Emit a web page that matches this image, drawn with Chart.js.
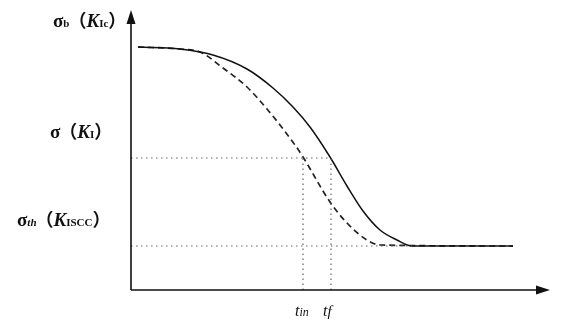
<!DOCTYPE html>
<html lang="en">
<head>
    <meta charset="UTF-8">
    <title>Stress vs time curve</title>
    <style>
        body { margin: 0; background: #fff; }
        #wrap { width: 568px; height: 324px; }
    </style>
</head>
<body>
    <div id="wrap"><canvas id="curveChart" width="568" height="324"></canvas></div>

    <script src="https://cdn.jsdelivr.net/npm/chart.js"></script>
    <script>
        // curve values (x = time, y = stress)
        var solidX = [7, 49, 82, 116, 142, 162, 179, 199, 216, 232, 249, 266, 281, 382];
        var solidY = [243, 241, 235, 221, 202, 183, 163, 133, 104, 79, 60, 50, 44, 44];
        var dashX = [7, 49, 69, 92, 116, 136, 149, 164, 172, 199, 216, 236, 249, 382];
        var dashY = [243, 241, 238, 222, 203, 181, 165, 145, 133, 88, 67, 50, 45, 44];

        // reference levels and times for the dotted guides
        var levelB = 243;
        var levelSigma = 132;
        var levelTh = 44;
        var timeIn = 172;
        var timeF = 200;

        var SERIF = '"Liberation Serif", "Times New Roman", serif';
        var CJK = '"Noto Sans CJK SC"';
        var BIG = 'bold 19px ' + SERIF, BIGI = 'bold italic 19px ' + SERIF;
        var SUB = 'bold 11px ' + SERIF, SUBI = 'bold italic 11px ' + SERIF;
        var PAR = 'bold 18px ' + CJK;

        // each piece: text, font, fixed advance (0 = measured)
        var yLabels = [
            { level: levelB, x: 53, segs: [['σ', BIG, 0], ['b', SUB, 0], ['（', PAR, 17], ['K', BIGI, 0], ['Ic', SUB, 0], ['）', PAR, 0]] },
            { level: levelSigma, x: 50, segs: [['σ', BIG, 0], ['（', PAR, 17], ['K', BIGI, 0], ['I', SUB, 0], ['）', PAR, 0]] },
            { level: levelTh, x: 17, segs: [['σ', BIG, 0], ['th', SUBI, 0], ['（', PAR, 17], ['K', BIGI, 0], ['ISCC', SUB, 0], ['）', PAR, 0]] }
        ];
        var xLabels = [
            { time: timeIn, segs: [['t', 'italic 16px ' + SERIF, 0], ['in', 'italic 12px ' + SERIF, 0]] },
            { time: timeF, segs: [['t', 'italic 16px ' + SERIF, 0], ['f', 'italic 15px ' + SERIF, 0]] }
        ];

        function pts(xs, ys) {
            return xs.map(function(x, i) { return { x: x, y: ys[i] }; });
        }

        var dotStyle = { borderColor: '#666', borderWidth: 1.2, borderDash: [1.5, 3.5], pointRadius: 0, showLine: true, tension: 0 };

        function drawSegs(ctx, segs, x, y) {
            segs.forEach(function(s) {
                ctx.font = s[1];
                var w = ctx.measureText(s[0]).width;
                if (s[2]) {
                    // full-width bracket: glyph sits at the right of its cell
                    ctx.fillText(s[0], x + s[2] - w, y);
                    x += s[2];
                } else {
                    ctx.fillText(s[0], x, y);
                    x += w;
                }
            });
        }

        var axesPlugin = {
            id: 'axesPlugin',
            afterDraw: function(chart) {
                var ctx = chart.ctx;
                var a = chart.chartArea;
                var xs = chart.scales.x, ys = chart.scales.y;
                ctx.save();
                ctx.strokeStyle = '#111';
                ctx.fillStyle = '#111';
                ctx.lineWidth = 1.6;
                ctx.beginPath();
                ctx.moveTo(a.left, a.bottom);
                ctx.lineTo(a.left, a.top + 6);
                ctx.moveTo(a.left, a.bottom);
                ctx.lineTo(a.right - 6, a.bottom);
                ctx.stroke();
                // arrow heads
                ctx.beginPath();
                ctx.moveTo(a.left, a.top - 2);
                ctx.lineTo(a.left - 4.5, a.top + 12);
                ctx.lineTo(a.left + 4.5, a.top + 12);
                ctx.closePath();
                ctx.fill();
                ctx.beginPath();
                ctx.moveTo(a.right + 2, a.bottom);
                ctx.lineTo(a.right - 12, a.bottom - 4.5);
                ctx.lineTo(a.right - 12, a.bottom + 4.5);
                ctx.closePath();
                ctx.fill();

                ctx.textBaseline = 'alphabetic';
                yLabels.forEach(function(l) {
                    drawSegs(ctx, l.segs, l.x, ys.getPixelForValue(l.level) - 20);
                });
                xLabels.forEach(function(l) {
                    drawSegs(ctx, l.segs, xs.getPixelForValue(l.time) - 8, a.bottom + 26);
                });
                ctx.restore();
            }
        };

        function makeChart() {
            new Chart(document.getElementById('curveChart'), {
                type: 'scatter',
                data: {
                    datasets: [
                        Object.assign({ data: pts([0, timeF], [levelSigma, levelSigma]) }, dotStyle),
                        Object.assign({ data: pts([0, 281], [levelTh, levelTh]) }, dotStyle),
                        Object.assign({ data: pts([timeIn, timeIn], [0, levelSigma]) }, dotStyle),
                        Object.assign({ data: pts([timeF, timeF], [0, levelSigma]) }, dotStyle),
                        {
                            data: pts(solidX, solidY),
                            showLine: true,
                            borderColor: '#111',
                            borderWidth: 1.5,
                            pointRadius: 0,
                            cubicInterpolationMode: 'monotone'
                        },
                        {
                            data: pts(dashX, dashY),
                            showLine: true,
                            borderColor: '#222',
                            borderWidth: 1.7,
                            borderDash: [6, 4],
                            pointRadius: 0,
                            cubicInterpolationMode: 'monotone'
                        }
                    ]
                },
                options: {
                    responsive: false,
                    animation: false,
                    layout: { padding: { left: 131, right: 20, top: 12, bottom: 34 } },
                    plugins: { legend: { display: false }, tooltip: { enabled: false } },
                    scales: {
                        x: { type: 'linear', min: 0, max: 417, display: false },
                        y: { type: 'linear', min: 0, max: 278, display: false }
                    }
                },
                plugins: [axesPlugin]
            });
        }

        // make sure the local fonts are ready before the canvas text is drawn
        Promise.all([
            document.fonts.load('bold 19px "Liberation Serif"', 'σK'),
            document.fonts.load('bold italic 19px "Liberation Serif"', 'K'),
            document.fonts.load('italic 16px "Liberation Serif"', 't'),
            document.fonts.load('bold 18px "Noto Sans CJK SC"', '（）')
        ]).then(makeChart, makeChart);
    </script>
</body>
</html>
